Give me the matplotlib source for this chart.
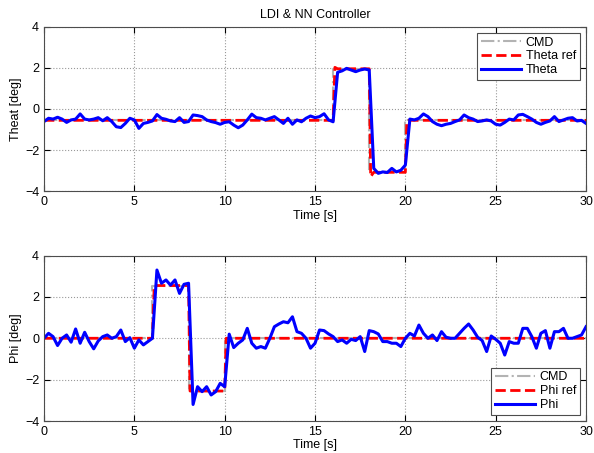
import numpy as np
import matplotlib
matplotlib.use('Agg')
import matplotlib.pyplot as plt
from matplotlib import rcParams

rcParams.update({
    "font.family": ['Liberation Sans', 'DejaVu Sans'],
    "font.size": 9,
})

# 采样时间 (0.25 s)
t = np.linspace(0, 30, 121)

# 俯仰角 theta 的指令 / 参考
theta_cmd_t = [0, 16, 16, 18, 18, 20, 20, 30]
theta_cmd = [-0.55, -0.55, 1.95, 1.95, -3.05, -3.05, -0.55, -0.55]
theta_ref_t = [0, 16.0, 16.1, 16.25, 18.0, 18.08, 18.25, 20.0, 20.08, 20.2, 30]
theta_ref = [-0.55, -0.55, 2.02, 1.95, 1.95, -3.28, -3.07, -3.07, -0.6, -0.55, -0.55]

# 实际 theta 响应
theta = [
    -0.61, -0.45, -0.49, -0.40, -0.49, -0.65, -0.53, -0.49, -0.24, -0.49,
    -0.53, -0.49, -0.42, -0.57, -0.42, -0.61, -0.86, -0.90, -0.70, -0.45,
    -0.53, -0.94, -0.70, -0.65, -0.58, -0.27, -0.45, -0.50, -0.58, -0.61,
    -0.42, -0.65, -0.61, -0.29, -0.32, -0.37, -0.53, -0.61, -0.66, -0.74,
    -0.65,
    -0.62, -0.78, -0.91, -0.78, -0.53, -0.25, -0.42, -0.45, -0.53, -0.45,
    -0.37, -0.53, -0.70, -0.45, -0.74, -0.53, -0.62, -0.45, -0.34, -0.42,
    -0.37, -0.23, -0.53, -0.62, 1.78, 1.85, 1.97, 1.89, 1.81, 1.89,
    1.94, 1.89, -2.88, -3.12, -3.05, -3.08, -2.88, -3.05, -2.97, -2.72,
    -0.49, -0.53, -0.45, -0.24, -0.37, -0.61, -0.74, -0.81, -0.74, -0.70,
    -0.61, -0.53, -0.29, -0.42, -0.49, -0.61, -0.58, -0.53, -0.58, -0.74,
    -0.78, -0.65, -0.49, -0.53, -0.29, -0.26, -0.37, -0.49, -0.65, -0.74,
    -0.65, -0.58, -0.37, -0.61, -0.53, -0.45, -0.42, -0.58, -0.55, -0.70,
]

# 滚转角 phi 的指令 / 参考
phi_cmd_t = [0, 6, 6, 8, 8, 10, 10, 30]
phi_cmd = [0, 0, 2.55, 2.55, -2.55, -2.55, 0, 0]
phi_ref_t = [0, 6.0, 6.1, 8.0, 8.08, 10.0, 10.08, 30]
phi_ref = [0, 0, 2.55, 2.55, -2.55, -2.55, 0, 0]

# 实际 phi 响应
phi = [
    0.00, 0.24, 0.08, -0.35, 0.00, 0.16, -0.19, 0.45, -0.24, 0.29,
    -0.16, -0.51, -0.13, 0.08, 0.16, 0.00, 0.08, 0.40, -0.16, 0.03,
    -0.48, -0.08, -0.32, -0.16, 0.00, 3.30, 2.66, 2.82, 2.57, 2.82,
    2.17, 2.61, 2.66, -3.20, -2.34, -2.58, -2.34, -2.74, -2.58, -2.18,
    -2.34,
    0.20, -0.45, -0.24, -0.08, 0.48, -0.24, -0.48, -0.40, -0.48, 0.00,
    0.56, 0.69, 0.80, 0.75, 1.04, 0.32, 0.24, 0.00, -0.48, -0.24,
    0.40, 0.37, 0.21, 0.08, -0.16, -0.08, -0.24, -0.05, -0.11, 0.08,
    -0.64, 0.37, 0.32, 0.21, -0.16, -0.16, -0.24, -0.24, -0.40, 0.00,
    0.24, 0.11, 0.64, 0.24, 0.00, 0.16, -0.11, 0.32, 0.05, 0.00,
    0.00, 0.24, 0.48, 0.69, 0.40, 0.05, -0.11, -0.64, 0.11, -0.05,
    -0.24, -0.81, -0.16, -0.24, -0.24, 0.48, 0.48, 0.08, -0.48, 0.24,
    0.37, -0.48, 0.32, 0.32, 0.48, 0.00, 0.00, 0.08, 0.16, 0.56,
]


def draw(ax, cmd_t, cmd, ref_t, ref, y, name, ylabel, loc):
    ax.plot(cmd_t, cmd, color='0.7', ls='-.', lw=1.5, label='CMD')
    ax.plot(ref_t, ref, color='red', ls='--', lw=2, label=name + ' ref')
    ax.plot(t, y, color='blue', lw=2.2, label=name)
    ax.set_xlim(0, 30)
    ax.set_ylim(-4, 4)
    ax.set_xticks(np.arange(0, 31, 5))
    ax.set_yticks([-4, -2, 0, 2, 4])
    ax.grid(True, ls=':', color='0.6', lw=0.8)
    ax.tick_params(direction='in', top=True, right=True, length=4)
    for s in ax.spines.values():
        s.set_color('0.3')
    ax.set_xlabel('Time [s]', labelpad=1)
    ax.set_ylabel(ylabel, labelpad=2)
    leg = ax.legend(loc=loc, fancybox=False, framealpha=1, edgecolor='0.3',
                    handlelength=3.2, borderpad=0.3, labelspacing=0.15,
                    handletextpad=0.4, borderaxespad=0.5)
    leg.get_frame().set_linewidth(0.8)


fig = plt.figure(figsize=(5.94, 4.53), dpi=100)
ax1 = fig.add_axes([0.0741, 0.5773, 0.9125, 0.3642])
ax2 = fig.add_axes([0.0741, 0.0706, 0.9125, 0.3653])

draw(ax1, theta_cmd_t, theta_cmd, theta_ref_t, theta_ref, theta, 'Theta', 'Theat [deg]', 'upper right')
ax1.set_title('LDI & NN Controller', fontsize=9, pad=6)
draw(ax2, phi_cmd_t, phi_cmd, phi_ref_t, phi_ref, phi, 'Phi', 'Phi [deg]', 'lower right')

plt.savefig('out.png', dpi=100)
